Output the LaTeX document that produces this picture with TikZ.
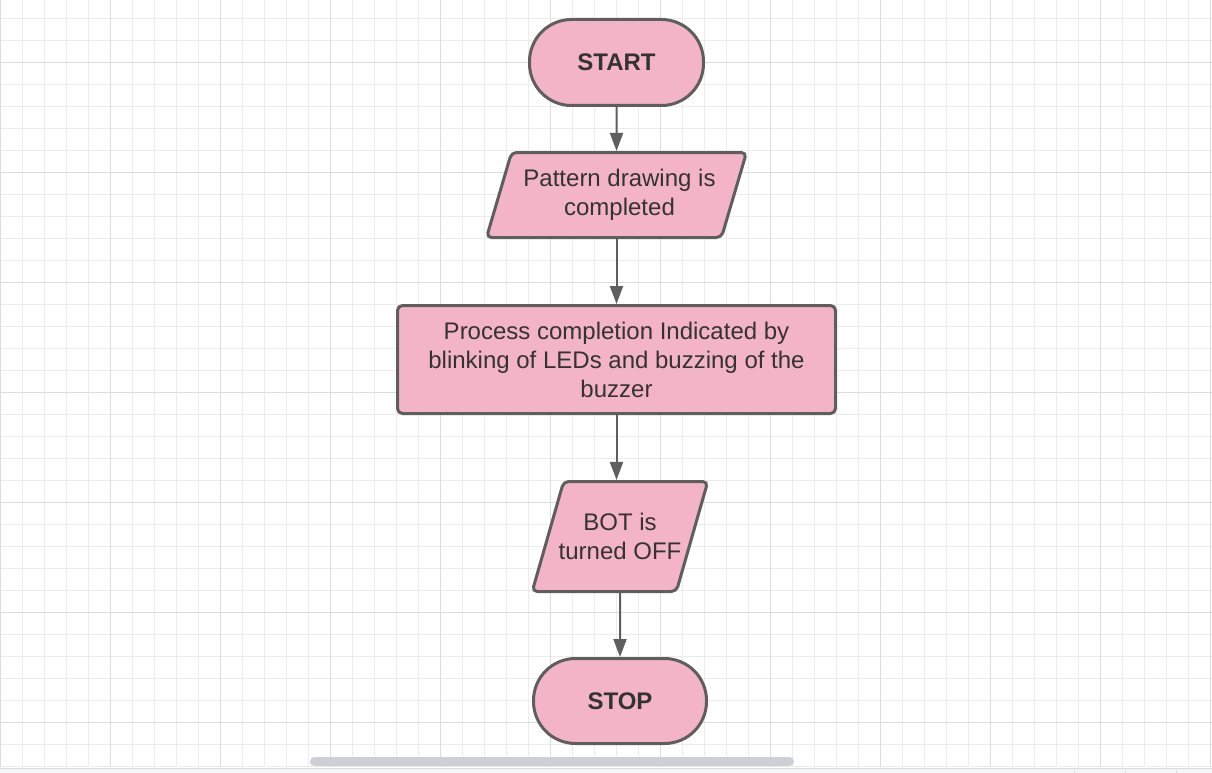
\documentclass[tikz,border=0pt]{standalone}
\usepackage{fontspec}
\setmainfont{Liberation Sans}
\usepackage{xcolor}
\usetikzlibrary{positioning, arrows.meta, shapes.geometric}

\definecolor{boxpink}{RGB}{244,180,200}
\definecolor{edgegray}{RGB}{94,94,94}
\definecolor{textgray}{RGB}{51,51,51}
\definecolor{gridminor}{RGB}{236,236,236}
\definecolor{gridmajor}{RGB}{220,220,220}
\definecolor{barpanel}{RGB}{245,246,248}
\definecolor{scrollgray}{RGB}{205,207,212}

\begin{document}
\begin{tikzpicture}[x=1pt, y=-1pt, font=\fontsize{24}{29}\selectfont, text=textgray,
    startstop/.style={draw=edgegray, line width=3pt, fill=boxpink, rounded corners=42pt,
        minimum width=174pt, minimum height=86pt, inner sep=0pt},
    iobox/.style={trapezium, trapezium stretches body=true, draw=edgegray, line width=3pt,
        fill=boxpink, rounded corners=5pt, align=center, inner sep=0pt},
    procbox/.style={draw=edgegray, line width=3pt, fill=boxpink, rounded corners=5pt,
        minimum width=438pt, minimum height=108pt, align=center, inner sep=0pt},
    flowarrow/.style={draw=edgegray, line width=2pt, -{Triangle[length=18pt, width=13pt]}}]
    \useasboundingbox (0,0) rectangle (1212,773);
    \fill[white] (0,0) rectangle (1212,773);

    % Background grid
    \foreach \i in {0,...,55} {
        \draw[gridminor, line width=1pt] ({0.3+22*\i},0) -- ({0.3+22*\i},767);
    }
    \foreach \j in {0,...,34} {
        \draw[gridminor, line width=1pt] (0,{18.3+22*\j}) -- (1212,{18.3+22*\j});
    }
    \foreach \i in {0,...,11} {
        \draw[gridmajor, line width=1pt] ({0.3+110*\i},0) -- ({0.3+110*\i},767);
    }
    \foreach \j in {0,...,6} {
        \draw[gridmajor, line width=1pt] (0,{62.3+110*\j}) -- (1212,{62.3+110*\j});
    }

    % Scroll bar and bottom panel
    \fill[scrollgray, rounded corners=4.5pt] (310,757) rectangle (794,766);
    \fill[barpanel] (0,768) rectangle (1212,773);
    \draw[gridmajor, line width=1pt] (0,768) -- (1212,768);
    \foreach \x in {1074, 1125, 1176} {
        \draw[gridmajor, line width=1pt] (\x,770) -- (\x,773);
    }

    % Flowchart nodes
    \node[startstop] (start) at (616.5,62.5) {\textbf{START}};
    \node[iobox, trapezium left angle=64, trapezium right angle=116,
        minimum width=260pt, minimum height=85pt] (pattern) at (616.5,195)
        {\hspace*{6pt}Pattern drawing is\\\hspace*{6pt}completed};
    \node[procbox] (signal) at (616.5,359.5)
        {Process completion Indicated by\\blinking of LEDs and buzzing of the\\buzzer};
    \node[iobox, trapezium left angle=56, trapezium right angle=124, inner xsep=-5pt,
        minimum width=171pt, minimum height=110pt] (botoff) at (620,536.5)
        {BOT is\\turned OFF};
    \node[startstop, minimum width=173pt, minimum height=85pt] (stop) at (620,701) {\textbf{STOP}};

    % Connectors
    \draw[flowarrow] (start) -- (pattern);
    \draw[flowarrow] (pattern) -- (signal);
    \draw[flowarrow] (signal.south) -- (signal.south |- botoff.north);
    \draw[flowarrow] (botoff) -- (stop);
\end{tikzpicture}
\end{document}
